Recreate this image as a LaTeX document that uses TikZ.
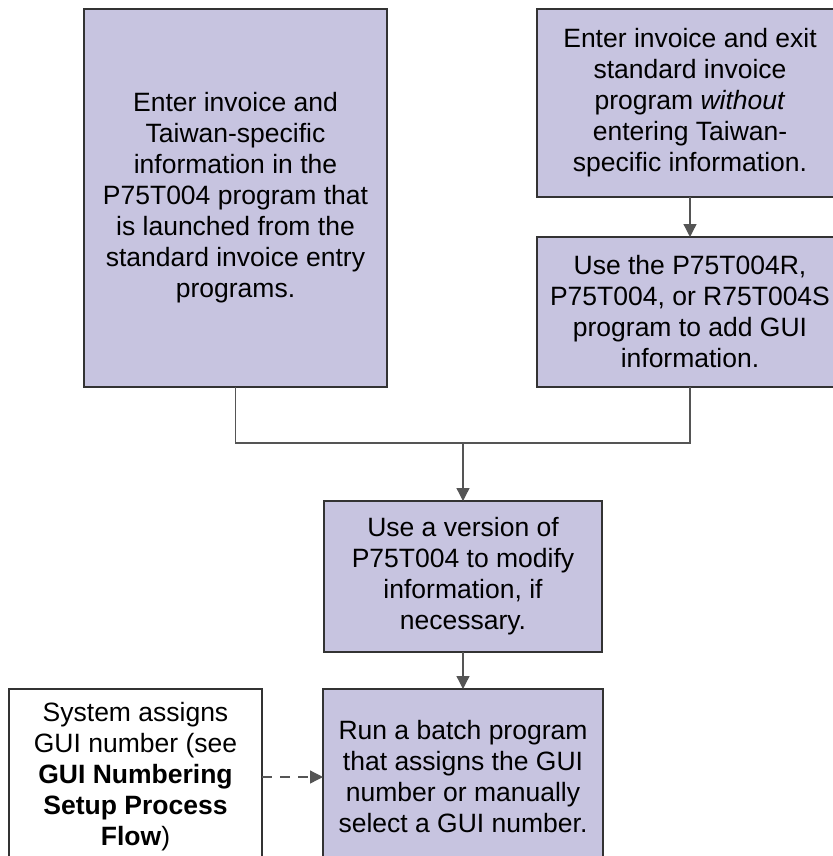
\documentclass[tikz,border=0pt]{standalone}
\usepackage{fontspec}
\setmainfont{Liberation Sans}
\usetikzlibrary{arrows.meta}
\definecolor{boxfill}{HTML}{C7C4E0}
\definecolor{boxline}{HTML}{333333}
\definecolor{linkgray}{HTML}{555555}
\begin{document}
\begin{tikzpicture}[x=1pt,y=-1pt,
	stepbox/.style={draw=boxline,fill=boxfill,line width=1.5pt,align=center,inner sep=0pt,outer sep=0pt,font=\fontsize{26.5}{31}\selectfont},
	notebox/.style={stepbox,fill=white},
	link/.style={draw=linkgray,line width=1.3pt},
	flow/.style={link,-{Triangle[width=13pt,length=13pt]}}]
	\useasboundingbox (0,0) rectangle (832,856);
	% step boxes
	\node[stepbox,minimum width=303pt,minimum height=378pt] (enter) at (235.5,198) {Enter invoice and\\ Taiwan-specific\\ information in the\\ P75T004 program that\\ is launched from the\\ standard invoice entry\\ programs.};
	\node[stepbox,minimum width=306pt,minimum height=188pt] (exitinv) at (690,103) {Enter invoice and exit\\ standard invoice\\ program \textit{without}\\ entering Taiwan-\\ specific information.};
	\node[stepbox,minimum width=306pt,minimum height=150pt] (useprog) at (690,312) {Use the P75T004R,\\ P75T004, or R75T004S\\ program to add GUI\\ information.};
	\node[stepbox,minimum width=278pt,minimum height=151pt] (modify) at (463,576.5) {Use a version of\\ P75T004 to modify\\ information, if\\ necessary.};
	\node[stepbox,minimum width=280pt,minimum height=176pt] (batch) at (463,777) {Run a batch program\\ that assigns the GUI\\ number or manually\\ select a GUI number.};
	\node[notebox,minimum width=253pt,minimum height=176pt] (sysgui) at (135.5,777) {System assigns\\ GUI number (see\\ \textbf{GUI Numbering}\\ \textbf{Setup Process}\\ \textbf{Flow})};
	% connectors
	\coordinate (join) at (463,443);
	\draw[link] (enter.south) |- (join) -| (useprog.south);
	\draw[flow] (join) -- (modify.north);
	\draw[flow] (exitinv) -- (useprog);
	\draw[flow] (modify) -- (batch);
	\draw[flow,dash pattern=on 10pt off 8pt] (sysgui) -- (batch);
\end{tikzpicture}
\end{document}
